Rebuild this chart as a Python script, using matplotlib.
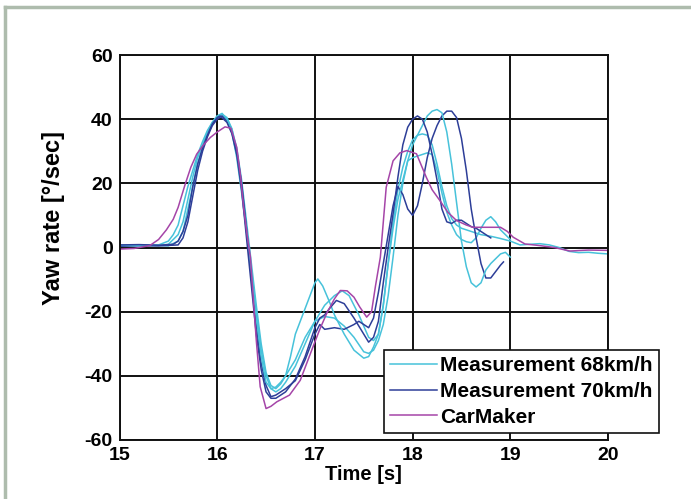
import matplotlib
matplotlib.use("Agg")
import matplotlib.pyplot as plt
from matplotlib.lines import Line2D

plt.rcParams['font.family'] = ['Liberation Sans', 'DejaVu Sans']
plt.rcParams['font.weight'] = 'bold'

# ---------------- data ----------------
labels = ["Measurement 68km/h", "Measurement 70km/h", "CarMaker"]

cyan_a_t = [15.0, 15.2, 15.4, 15.5, 15.55, 15.6, 15.65, 15.7, 15.75, 15.8, 15.85, 15.9, 15.95, 16.0, 16.05,
            16.1, 16.15, 16.2, 16.25, 16.3, 16.35, 16.4, 16.45, 16.5, 16.55, 16.6, 16.65, 16.7, 16.75, 16.8,
            16.85, 16.9, 16.95, 17.0, 17.03, 17.08, 17.15, 17.2, 17.3, 17.4, 17.5, 17.55, 17.6, 17.65, 17.7,
            17.75, 17.8, 17.85, 17.9, 17.95, 18.0, 18.05, 18.1, 18.15, 18.2, 18.25, 18.3, 18.35, 18.4, 18.45,
            18.5, 18.55, 18.6, 18.65, 18.7, 18.75, 18.8, 18.85, 18.9, 18.95, 19.0]
cyan_a_y = [0.8, 0.6, 0.8, 2, 4, 7, 13, 19, 24, 29, 33, 36.5, 39, 41, 41.8,
            40, 36, 28, 17, 5, -8, -22, -34, -42, -44, -43.5, -42, -40, -34, -27,
            -23, -19, -15, -11, -9.8, -12, -17, -21, -27, -32, -34.5, -34, -31, -27, -18,
            -5, 6, 15, 21, 27, 32, 35, 38, 41, 42.5, 43, 42, 36, 26, 14,
            2, -6, -11, -12.3, -11, -7, -5, -3.5, -2, -1.5, -3]

cyan_b_t = [15.0, 15.2, 15.4, 15.5, 15.6, 15.65, 15.7, 15.75, 15.8, 15.85, 15.9, 15.95, 16.0, 16.05, 16.1,
            16.15, 16.2, 16.25, 16.3, 16.35, 16.4, 16.45, 16.5, 16.55, 16.6, 16.65, 16.7, 16.8, 16.9, 17.0,
            17.1, 17.2, 17.28, 17.35, 17.45, 17.55, 17.6, 17.65, 17.7, 17.75, 17.8, 17.85, 17.9, 17.95, 18.0,
            18.05, 18.1, 18.15, 18.2, 18.25, 18.3, 18.35, 18.4, 18.45, 18.5, 18.6, 18.7, 18.8, 18.9, 19.0,
            19.1, 19.2, 19.3, 19.4, 19.5, 19.6, 19.7, 19.8, 19.9, 20.0]
cyan_b_y = [0.5, 0.7, 0.6, 1, 4, 8, 15, 22, 28, 32, 36, 39, 41, 41.5, 40.5,
            37, 30, 19, 6, -7, -20, -32, -40, -44, -45, -44, -42, -37, -30, -23,
            -18, -15, -13.5, -15, -21, -28, -29, -27, -18, -5, 8, 18, 25, 30, 33.5,
            35, 35.4, 35, 32, 26, 19, 13, 9, 7, 6, 5, 4, 3.5, 2.8, 2,
            0.8, 1, 1.2, 0.8, 0, -1.2, -1.6, -1.5, -1.8, -2]

cyan_c_t = [15.0, 15.2, 15.4, 15.5, 15.6, 15.65, 15.7, 15.75, 15.8, 15.85, 15.9, 15.95, 16.0, 16.05, 16.1,
            16.15, 16.2, 16.25, 16.3, 16.35, 16.4, 16.45, 16.5, 16.55, 16.6, 16.65, 16.7, 16.8, 16.9, 17.0,
            17.1, 17.2, 17.3, 17.4, 17.5, 17.55, 17.6, 17.65, 17.7, 17.75, 17.8, 17.85, 17.9, 17.95, 18.0,
            18.05, 18.1, 18.15, 18.2, 18.25, 18.3, 18.35, 18.4, 18.45, 18.5, 18.55, 18.6, 18.65, 18.7, 18.75,
            18.8, 18.85, 18.9, 18.95, 19.0]
cyan_c_y = [0.6, 0.5, 0.7, 0.5, 2, 5, 12, 19, 26, 31, 35, 38.5, 40.5, 41, 40,
            37, 31, 21, 8, -5, -18, -30, -39, -43, -44, -42.5, -40, -35, -28, -23,
            -21.5, -22, -24.5, -28, -32.5, -33, -32, -29, -24, -15, -3, 10, 20, 27, 28,
            28.5, 29, 29.5, 29, 24, 17, 11, 7, 4, 2.5, 1.8, 1.5, 3, 6, 8.5,
            9.6, 8, 5.5, 4, 2.5]

blue_a_t = [15.0, 15.2, 15.4, 15.55, 15.6, 15.65, 15.7, 15.75, 15.8, 15.85, 15.9, 15.95, 16.0, 16.03, 16.1,
            16.15, 16.2, 16.25, 16.3, 16.35, 16.4, 16.45, 16.5, 16.55, 16.6, 16.65, 16.7, 16.8, 16.9, 17.0,
            17.05, 17.1, 17.15, 17.22, 17.3, 17.4, 17.5, 17.55, 17.6, 17.65, 17.7, 17.75, 17.8, 17.85, 17.9,
            17.95, 18.0, 18.05, 18.1, 18.15, 18.2, 18.25, 18.3, 18.35, 18.4, 18.45, 18.5, 18.55, 18.6, 18.65,
            18.7, 18.75, 18.8]
blue_a_y = [0.8, 0.9, 0.7, 1, 2, 5, 10, 19, 26, 31, 35, 38.5, 40.5, 41, 39,
            35.5, 29, 18, 3, -12, -27, -38, -45, -47, -47, -46, -45, -41, -34, -25,
            -22, -21, -19, -16.5, -17.5, -22, -27, -29.5, -28, -23, -11, 0, 10.5, 22, 32,
            37.5, 40, 41, 40, 36, 29, 21, 12, 8, 7.5, 8.5, 8.5, 7.5, 6.5, 6,
            5, 4, 3]

blue_b_t = [15.0, 15.2, 15.4, 15.6, 15.65, 15.7, 15.75, 15.8, 15.85, 15.9, 15.95, 16.0, 16.05, 16.1, 16.15,
            16.2, 16.25, 16.3, 16.35, 16.4, 16.45, 16.5, 16.55, 16.6, 16.65, 16.7, 16.8, 16.9, 17.0, 17.05,
            17.1, 17.2, 17.3, 17.4, 17.45, 17.5, 17.55, 17.6, 17.65, 17.7, 17.75, 17.8, 17.85, 17.9, 17.95,
            18.0, 18.05, 18.1, 18.15, 18.2, 18.25, 18.3, 18.35, 18.4, 18.45, 18.5, 18.55, 18.6, 18.65, 18.7,
            18.75, 18.8, 18.85, 18.9, 18.93]
blue_b_y = [0.4, 0.6, 0.5, 0.8, 3, 8, 16, 24, 30, 34.5, 38, 40, 41, 39.5, 36,
            30, 20, 6, -9, -24, -36, -43, -46.5, -46, -45, -44, -41.5, -35, -27, -24,
            -25.5, -25, -25.5, -24, -23, -24, -25, -22, -14, -5, 4, 13, 19, 16.5, 12,
            10, 13, 20, 28, 34, 38, 41, 42.5, 42.5, 40.5, 34, 24, 12, 3, -5,
            -9.5, -9.5, -7.5, -5.5, -4.5]

mag_t = [15.0, 15.15, 15.31, 15.4, 15.48, 15.55, 15.6, 15.67, 15.73, 15.79, 15.86, 15.93, 16.0, 16.08, 16.14,
         16.2, 16.24, 16.27, 16.31, 16.34, 16.37, 16.4, 16.44, 16.5, 16.55, 16.61, 16.74, 16.85, 16.98, 17.05,
         17.12, 17.2, 17.26, 17.33, 17.4, 17.46, 17.53, 17.58, 17.62, 17.67, 17.73, 17.8, 17.87, 17.94, 18.04,
         18.14, 18.2, 18.28, 18.36, 18.45, 18.55, 18.62, 18.75, 18.9, 18.97, 19.03, 19.15, 19.3, 19.45, 19.61,
         19.8, 20.0]
mag_y = [-0.5, -0.3, 0.6, 2.5, 5.5, 8.8, 12.5, 19.5, 25, 29.1, 32, 34.3, 36, 37.6, 37.2,
         31.2, 22, 12.5, 3, -3, -16, -28.9, -43.4, -50.2, -49.5, -48.1, -46, -41.4, -31, -25.5,
         -20.6, -16, -13.4, -13.5, -15.5, -18.6, -21.7, -20, -12, -3, 18.8, 27, 29.5, 30.2, 29.2,
         21.9, 18, 14.6, 11, 8.4, 7, 6.3, 6.3, 6.3, 5, 3.2, 1.1, 0.6, 0, -1.1,
         -0.8, -0.9]

x_ticks = [15, 16, 17, 18, 19, 20]
y_ticks = [-60, -40, -20, 0, 20, 40, 60]

# ---------------- style ----------------
c_cyan = '#47c2da'
c_blue = '#2d3e98'
c_mag = '#a545a8'

W, H = 691, 499
fig = plt.figure(figsize=(W / 100, H / 100), dpi=100)
fig.patch.set_facecolor('white')

ax = fig.add_axes([119.5 / W, 1 - 440 / H, (608 - 119.5) / W, (440 - 55) / H])

lw = 1.1
ax.plot(cyan_c_t, cyan_c_y, color=c_cyan, lw=lw)
ax.plot(cyan_b_t, cyan_b_y, color=c_cyan, lw=lw)
ax.plot(blue_b_t, blue_b_y, color=c_blue, lw=lw)
l1, = ax.plot(cyan_a_t, cyan_a_y, color=c_cyan, lw=lw, label=labels[0])
l2, = ax.plot(blue_a_t, blue_a_y, color=c_blue, lw=lw, label=labels[1])
l3, = ax.plot(mag_t, mag_y, color=c_mag, lw=lw, label=labels[2])

ax.set_xlim(15, 20)
ax.set_ylim(-60, 60)
ax.set_xticks(x_ticks)
ax.set_yticks(y_ticks)
ax.set_xticklabels([str(v) for v in x_ticks])
ax.set_yticklabels([str(v) for v in y_ticks])
ax.grid(True, color='#111111', lw=1.4)
ax.set_axisbelow(True)
for s in ax.spines.values():
    s.set_color('#111111')
    s.set_linewidth(1.4)
ax.tick_params(length=0, pad=5, labelsize=14)
for t in ax.get_xticklabels() + ax.get_yticklabels():
    t.set_fontweight('bold')

ax.set_xlabel('Time [s]', fontsize=14.5, fontweight='bold', labelpad=1)
ax.set_ylabel('Yaw rate [°/sec]', fontsize=17, fontweight='bold')
ax.yaxis.set_label_coords((65 - 119.5) / (608 - 119.5), (440 - 218) / 385)

leg = ax.legend(handles=[l1, l2, l3], loc='lower right',
                bbox_to_anchor=(659 / W, 1 - 433 / H), bbox_transform=fig.transFigure,
                borderaxespad=0, fancybox=False, framealpha=1, edgecolor='#111111',
                prop={'weight': 'bold', 'size': 15}, handlelength=2.25, handletextpad=0.15,
                labelspacing=0.33, borderpad=0.3)
leg.get_frame().set_linewidth(1.2)

# outer frame (top and left edges visible)
frame_col = '#aebcad'
fig.add_artist(Line2D([5 / W, 5 / W], [0, 1 - 7 / H], color=frame_col, lw=2.5, transform=fig.transFigure))
fig.add_artist(Line2D([5 / W, 1], [1 - 7 / H, 1 - 7 / H], color=frame_col, lw=2.5, transform=fig.transFigure))

fig.savefig('out.png', dpi=100)
